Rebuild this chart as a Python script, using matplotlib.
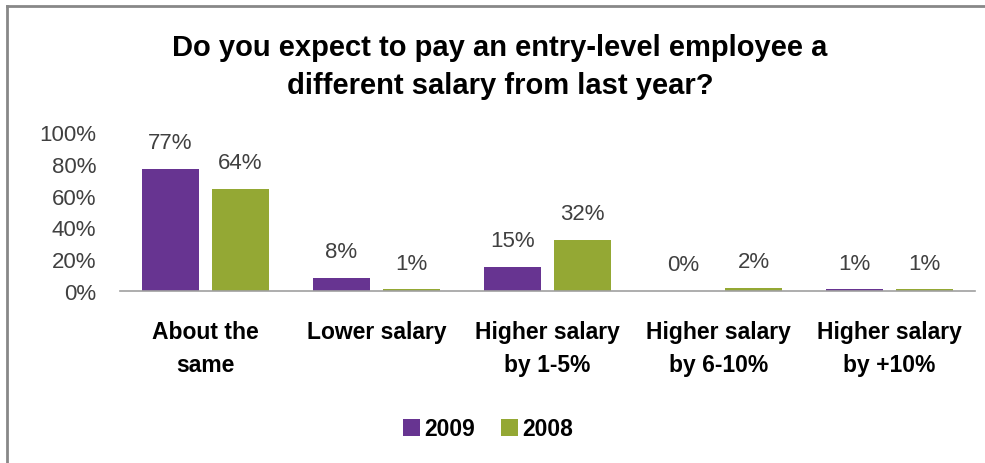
import matplotlib.pyplot as plt
import numpy as np
from matplotlib.lines import Line2D
from matplotlib.patches import Patch

# survey answers, share of respondents (%)
categories = ["About the\nsame", "Lower salary", "Higher salary\nby 1-5%",
              "Higher salary\nby 6-10%", "Higher salary\nby +10%"]
series_names = ["2009", "2008"]
values_2009 = [77, 8, 15, 0, 1]
values_2008 = [64, 1, 32, 2, 1]
y_ticks = [0, 20, 40, 60, 80, 100]

purple = "#673491"
green = "#94A834"

plt.rcParams["font.family"] = ["Liberation Sans Narrow", "Liberation Sans", "DejaVu Sans"]

fig = plt.figure(figsize=(9.85, 4.64), dpi=100)
W, H = 985, 464
ax = fig.add_axes([120 / W, (H - 292) / H, 855 / W, (292 - 133) / H])

x = np.arange(len(categories))
width = 0.333
offset = 0.205
bars_a = ax.bar(x - offset, values_2009, width, color=purple)
bars_b = ax.bar(x + offset, values_2008, width, color=green)

# value labels above each bar
for bars, vals in ((bars_a, values_2009), (bars_b, values_2008)):
    for b, v in zip(bars, vals):
        ax.annotate("%d%%" % v, (b.get_x() + b.get_width() / 2, v),
                    xytext=(0, 19), textcoords="offset points",
                    ha="center", va="center", fontsize=16, color="#404040")

ax.set_xlim(-0.5, len(categories) - 0.5)
ax.set_ylim(0, 100)
ax.set_yticks(y_ticks)
ax.set_yticklabels(["%d%%" % t for t in y_ticks], fontsize=16, color="#404040")
ax.tick_params(axis="y", length=0, pad=17)
ax.set_xticks([])
for s in ("top", "right", "left"):
    ax.spines[s].set_visible(False)
ax.spines["bottom"].set_color("#a0a0a0")
ax.spines["bottom"].set_linewidth(1.2)

# category labels under the axis
for xi, lab in zip(x, categories):
    ax.text(xi, -18, lab, ha="center", va="top", fontsize=16.5,
            fontweight="bold", linespacing=1.55, transform=ax.transData)

fig.text(500 / W, 1 - 67 / H,
         "Do you expect to pay an entry-level employee a\ndifferent salary from last year?",
         ha="center", va="center", fontsize=21, fontweight="bold",
         linespacing=1.45)

handles = [Patch(facecolor=purple), Patch(facecolor=green)]
fig.legend(handles, series_names, loc="center", bbox_to_anchor=(488 / W, 1 - 430 / H),
           ncol=2, frameon=False, handlelength=0.75, handleheight=0.75,
           handletextpad=0.2, columnspacing=1.1,
           prop={"weight": "bold", "size": 16.5})

# thin grey frame along the left and top edges
fig.add_artist(Line2D([7 / W, 7 / W], [0, 1 - 7 / H], transform=fig.transFigure,
                      color="#888888", linewidth=2))
fig.add_artist(Line2D([7 / W, 1], [1 - 7 / H, 1 - 7 / H], transform=fig.transFigure,
                      color="#888888", linewidth=2))

fig.savefig("out.png", dpi=100)
